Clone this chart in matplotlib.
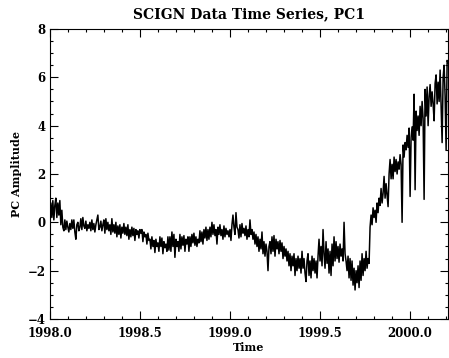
import numpy as np
import matplotlib
matplotlib.use("Agg")
import matplotlib.pyplot as plt
from matplotlib.ticker import MultipleLocator, FormatStrFormatter

# PC1 amplitude, roughly one sample every 2 days from 1998.0
t_start = 1998.0
t_step = 1.0 / 180.0
pc1 = [
    0.3, 0.8, 0.2, 0.9, 0.1, 0.7, 1.0, 0.2, 0.8, 0.3, 0.9, -0.1, 0.5, -0.2, -0.35, 0.1, -0.3, 0.05, -0.2, -0.4,
    -0.05, -0.3, 0.1, -0.25, 0.1, -0.4, -0.7, -0.1, 0.0, -0.35, -0.2, 0.15, -0.3, 0.2, -0.15, -0.25, 0.05, -0.35, -0.1, -0.25,
    0.0, -0.35, 0.1, -0.3, -0.05, -0.4, -0.1, 0.1, 0.3, -0.3, -0.2, 0.05, -0.35, -0.1, 0.1, -0.45, 0.15, -0.3, 0.0, -0.35,
    -0.1, -0.5, 0.15, -0.4, -0.1, -0.45, 0.0, -0.6, -0.15, -0.5, -0.1, -0.65, -0.2, -0.45, -0.05, -0.5, -0.2, -0.55, -0.1, -0.7,
    -0.3, -0.6, -0.2, -0.55, -0.25, -0.75, -0.3, -0.5, -0.35, -0.65, -0.3, -0.45, -0.3, -0.8, -0.4, -0.6, -0.5, -0.9, -0.45, -0.75,
    -0.7, -1.1, -0.6, -1.0, -0.75, -1.25, -0.7, -1.0, -0.85, -1.2, -0.6, -1.0, -0.65, -1.3, -0.8, -1.05, -0.9, -1.2, -0.6, -1.15,
    -0.6, -1.2, -0.4, -1.0, -0.5, -1.45, -0.7, -1.0, -0.8, -1.2, -0.5, -1.1, -0.6, -0.95, -0.55, -1.2, -0.7, -0.9, -0.6, -1.2,
    -0.6, -1.0, -0.5, -0.85, -0.45, -0.95, -0.6, -1.0, -0.7, -0.85, -0.35, -0.8, -0.4, -0.9, -0.3, -0.65, -0.2, -0.75, -0.3, -0.7,
    -0.2, -0.6, 0.0, -0.5, -0.1, -0.55, -0.3, -0.9, -0.2, -0.5, -0.1, -0.55, -0.3, -0.7, -0.15, -0.6, -0.25, -0.5, -0.35, -0.6,
    -0.3, -0.75, -0.1, 0.3, -0.2, -0.5, 0.4, -0.2, -0.3, -0.65, -0.1, -0.6, -0.05, -0.45, -0.25, -0.55, -0.15, -0.7, -0.3, -0.6,
    0.1, -0.5, -0.3, -0.7, -0.4, -0.9, -0.5, -1.0, -0.6, -1.2, -0.7, -1.1, -0.4, -1.3, -0.8, -1.4, -0.9, -1.2, -2.0, -1.0,
    -0.8, -1.3, -0.6, -1.2, -0.55, -1.4, -0.7, -1.1, -0.8, -1.3, -0.75, -1.2, -0.85, -1.5, -1.0, -1.4, -1.1, -1.6, -1.2, -1.8,
    -1.3, -2.0, -1.4, -1.8, -1.3, -2.2, -1.5, -2.0, -1.4, -1.9, -1.5, -2.1, -1.2, -1.9, -1.5, -2.1, -2.45, -1.6, -1.3, -2.2,
    -1.6, -2.3, -1.4, -2.0, -1.5, -2.1, -1.6, -2.3, -1.4, -0.7, -1.6, -1.0, -1.8, -0.3, -1.3, -1.9, -0.8, -1.7, -1.1, -2.1,
    -1.2, -2.2, -0.9, -1.8, -0.6, -1.6, -0.8, -1.5, -1.0, -1.65, -0.9, -1.4, -1.1, -1.6, 0.0, -1.3, -1.6, -2.0, -1.4, -2.3,
    -1.5, -2.4, -1.6, -2.6, -1.9, -2.8, -2.0, -2.5, -1.8, -2.7, -1.6, -2.4, -1.3, -2.2, -1.5, -2.0, -1.2, -1.9, -1.5, -1.7,
    -0.2, 0.3, -0.1, 0.6, 0.2, 0.5, 0.0, 0.8, 0.4, 1.0, 0.7, 1.4, 0.8, 1.2, 1.9, 1.0, 1.6, 1.1, 0.65, 2.0,
    2.6, 1.8, 2.4, 1.8, 2.7, 2.1, 2.6, 2.0, 2.5, 2.2, 2.8, 2.4, 0.0, 3.2, 2.7, 3.3, 3.0, 3.6, 3.1, 3.9,
    1.07, 3.5, 3.95, 3.4, 5.3, 1.35, 4.6, 3.8, 4.4, 3.6, 4.8, 4.0, 5.0, 4.3, 0.95, 5.5, 4.4, 5.6, 4.0, 5.2,
    5.7, 4.8, 5.4, 4.9, 4.2, 5.75, 6.1, 4.9, 5.8, 5.0, 6.3, 4.8, 3.3, 6.0, 6.5, 5.2, 3.0, 6.7, 6.6,
]

time = t_start + t_step * np.arange(len(pc1))

plt.rcParams["font.family"] = "DejaVu Serif"
plt.rcParams["font.weight"] = "bold"

fig = plt.figure(figsize=(4.49, 3.58), dpi=100)
ax = fig.add_axes([0.111, 0.109, 0.887, 0.810])

ax.plot(time, pc1, color="black", linewidth=1.1)

ax.set_xlim(1998.0, 2000.211)
ax.set_ylim(-4, 8)
ax.xaxis.set_major_locator(MultipleLocator(0.5))
ax.xaxis.set_minor_locator(MultipleLocator(0.1))
ax.yaxis.set_major_locator(MultipleLocator(2))
ax.yaxis.set_minor_locator(MultipleLocator(0.5))
ax.xaxis.set_major_formatter(FormatStrFormatter("%.1f"))

ax.tick_params(which="both", direction="in", top=True, right=True, width=0.8, labelsize=8.5)
ax.tick_params(which="major", length=5.5)
ax.tick_params(which="minor", length=2.5)
ax.tick_params(axis="x", pad=6)
ax.tick_params(axis="y", pad=3)
for s in ax.spines.values():
    s.set_linewidth(0.8)

ax.set_title("SCIGN Data Time Series, PC1", fontsize=10, fontweight="bold", pad=8)
ax.set_xlabel("Time", fontsize=8, fontweight="bold", labelpad=1)
ax.set_ylabel("PC Amplitude", fontsize=8, fontweight="bold", labelpad=4)

fig.savefig("out.png", dpi=100)
